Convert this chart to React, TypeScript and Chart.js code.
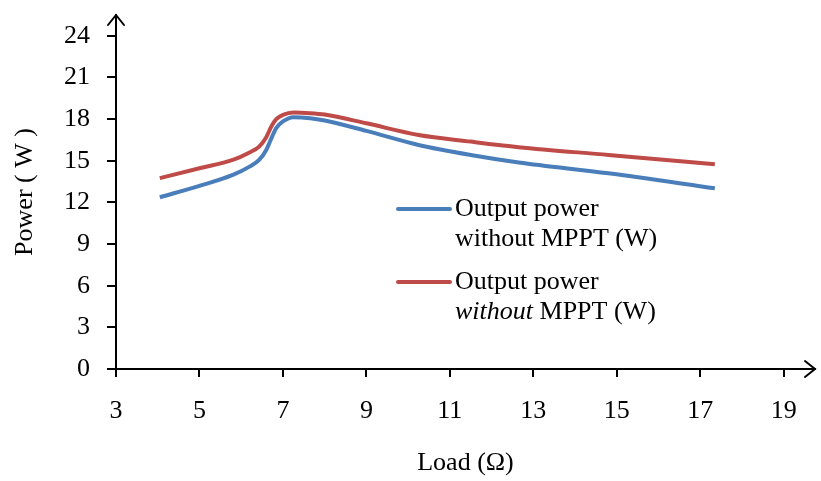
import { useEffect, useRef } from "react";
import { Chart, registerables } from "chart.js";

Chart.register(...registerables);

// ---- data ----
const loadOhm = [4.05, 5.0, 5.8, 6.2, 6.43, 6.6, 6.72, 6.84, 7.0, 7.25, 7.65, 8.0, 9.0, 10.25, 11.5, 12.65, 14.8, 17.35];
const powerBlue = [12.37, 13.19, 13.98, 14.58, 15.06, 15.78, 16.6, 17.35, 17.83, 18.14, 18.07, 17.9, 17.15, 16.14, 15.42, 14.88, 14.1, 13.02];
const powerRed = [13.75, 14.46, 15.06, 15.6, 16.02, 16.7, 17.46, 18.0, 18.3, 18.47, 18.43, 18.33, 17.7, 16.86, 16.38, 15.98, 15.42, 14.75];

const xTickValues = [3, 5, 7, 9, 11, 13, 15, 17, 19];
const yTickValues = [0, 3, 6, 9, 12, 15, 18, 21, 24];

const xAxisTitle = "Load (Ω)";
const yAxisTitle = "Power ( W )";

const seriesNames = ["Output power without MPPT (W)", "Output power without MPPT (W)"];
const legendFirstLines = ["Output power", "Output power"];
const legendSecondLines = [
  [{ text: "without MPPT (W)", italic: false }],
  [
    { text: "without", italic: true },
    { text: " MPPT (W)", italic: false },
  ],
];
const seriesColors = ["#4A7EBB", "#BE4B48"];

const FONT = "'Liberation Serif', 'Times New Roman', serif";
const FS = 26;

const arrowPlugin = {
  id: "axisArrows",
  afterDraw(chart: any) {
    const { ctx, chartArea } = chart;
    const { left, right, top, bottom } = chartArea;
    ctx.save();
    ctx.strokeStyle = "#000";
    ctx.lineWidth = 2;
    ctx.lineCap = "round";
    ctx.beginPath();
    ctx.moveTo(left - 8, top + 10);
    ctx.lineTo(left, top);
    ctx.lineTo(left + 8, top + 10);
    ctx.stroke();
    ctx.beginPath();
    ctx.moveTo(right - 10, bottom - 8);
    ctx.lineTo(right, bottom);
    ctx.lineTo(right - 10, bottom + 8);
    ctx.stroke();
    ctx.restore();
  },
};

const legendPlugin = {
  id: "customLegend",
  afterDraw(chart: any, _args: any, opts: any) {
    const { ctx } = chart;
    ctx.save();
    chart.data.datasets.forEach((ds: any, i: number) => {
      const baseY = opts.y + i * opts.rowGap;
      ctx.strokeStyle = ds.borderColor;
      ctx.lineWidth = 4;
      ctx.lineCap = "round";
      ctx.beginPath();
      ctx.moveTo(opts.x, baseY);
      ctx.lineTo(opts.x + opts.sample, baseY);
      ctx.stroke();
      ctx.fillStyle = "#000";
      ctx.textBaseline = "middle";
      ctx.textAlign = "left";
      const tx = opts.x + opts.sample + 5;
      ctx.font = `${FS}px ${FONT}`;
      ctx.fillText(legendFirstLines[i], tx, baseY);
      let cx = tx;
      for (const seg of legendSecondLines[i]) {
        ctx.font = `${seg.italic ? "italic " : ""}${FS}px ${FONT}`;
        ctx.fillText(seg.text, cx, baseY + opts.lineGap);
        cx += ctx.measureText(seg.text).width;
      }
    });
    ctx.restore();
  },
};

export default function App() {
  const ref = useRef<HTMLCanvasElement | null>(null);
  useEffect(() => {
    document.body.style.margin = "0";
    if (!ref.current) return;
    const mk = (ys: number[]) => loadOhm.map((x, i) => ({ x, y: ys[i] }));
    const chart = new Chart(ref.current, {
      type: "line",
      data: {
        datasets: [
          {
            label: seriesNames[0],
            data: mk(powerBlue),
            borderColor: seriesColors[0],
            borderWidth: 4,
            pointRadius: 0,
            cubicInterpolationMode: "monotone",
            fill: false,
          },
          {
            label: seriesNames[1],
            data: mk(powerRed),
            borderColor: seriesColors[1],
            borderWidth: 4,
            pointRadius: 0,
            cubicInterpolationMode: "monotone",
            fill: false,
          },
        ],
      },
      options: {
        animation: false,
        responsive: true,
        maintainAspectRatio: false,
        layout: { padding: { top: 15, right: 6, left: 0, bottom: 0 } },
        plugins: {
          legend: { display: false },
          tooltip: { enabled: false },
          customLegend: { x: 398, y: 209, rowGap: 73, lineGap: 30, sample: 52 },
        } as any,
        scales: {
          x: {
            type: "linear",
            min: 3,
            max: 19.75,
            afterBuildTicks: (s: any) => {
              s.ticks = xTickValues.map((v) => ({ value: v }));
            },
            afterFit: (s: any) => {
              s.height = 112;
              s.paddingLeft = 0;
              s.paddingRight = 0;
            },
            grid: { display: true, drawOnChartArea: false, drawTicks: true, tickLength: 8, color: "#000", lineWidth: 2 },
            border: { display: true, color: "#000", width: 2 },
            ticks: { color: "#000", font: { family: FONT, size: FS }, padding: 19, maxRotation: 0 },
            title: { display: true, text: xAxisTitle, color: "#000", font: { family: FONT, size: FS }, padding: { top: 0, bottom: 2 } },
          },
          y: {
            type: "linear",
            min: 0,
            max: 25.5,
            afterBuildTicks: (s: any) => {
              s.ticks = yTickValues.map((v) => ({ value: v }));
            },
            afterFit: (s: any) => {
              s.width = 116;
              s.paddingTop = 0;
              s.paddingBottom = 0;
            },
            grid: { display: true, drawOnChartArea: false, drawTicks: true, tickLength: 9, color: "#000", lineWidth: 2 },
            border: { display: true, color: "#000", width: 2 },
            ticks: { color: "#000", font: { family: FONT, size: FS }, padding: 17 },
            title: { display: true, text: yAxisTitle, color: "#000", font: { family: FONT, size: FS }, padding: { top: 10, bottom: 0 } },
          },
        },
      },
      plugins: [arrowPlugin, legendPlugin],
    });
    return () => chart.destroy();
  }, []);
  return (
    <div style={{ width: 821, height: 481, position: "relative", background: "#fff" }}>
      <canvas ref={ref} />
    </div>
  );
}
